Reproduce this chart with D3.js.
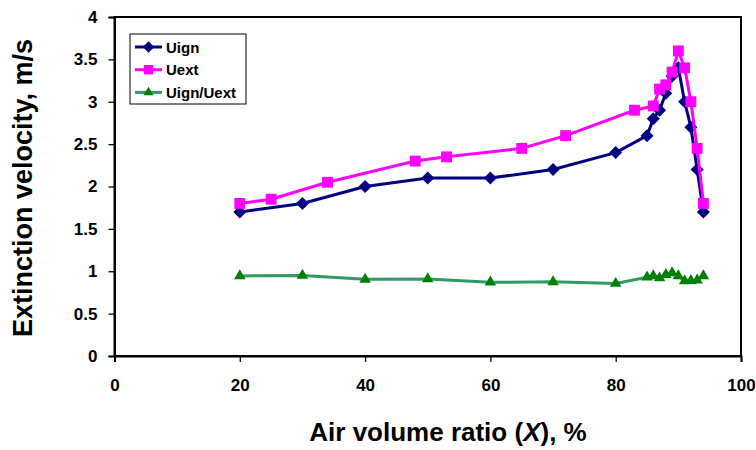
<!DOCTYPE html>
<html>
<head>
<meta charset="utf-8">
<script src="https://cdn.jsdelivr.net/npm/d3@7"></script>
<style>
  html, body { margin: 0; padding: 0; background: #fff; }
  svg { display: block; font-family: "Liberation Sans", Arial, sans-serif; }
</style>
</head>
<body>
<svg id="chart" width="756" height="450"></svg>
<script>
// Ignition / extinction velocities against air volume ratio
const uignX = [20, 30, 40, 50, 60, 70, 80, 85, 86, 87, 88, 89, 90, 91, 92, 93, 94];
const uignY = [1.7, 1.8, 2.0, 2.1, 2.1, 2.2, 2.4, 2.6, 2.8, 2.9, 3.1, 3.3, 3.4, 3.0, 2.7, 2.2, 1.7];

const uextX = [20, 25, 34, 48, 53, 65, 72, 83, 86, 87, 88, 89, 90, 91, 92, 93, 94];
const uextY = [1.8, 1.85, 2.05, 2.3, 2.35, 2.45, 2.6, 2.9, 2.95, 3.15, 3.2, 3.35, 3.6, 3.4, 3.0, 2.45, 1.8];

const ratioX = [20, 30, 40, 50, 60, 70, 80, 85, 86, 87, 88, 89, 90, 91, 92, 93, 94];
const ratioY = [0.945, 0.95, 0.905, 0.91, 0.87, 0.875, 0.855, 0.93, 0.945, 0.92, 0.96, 0.98, 0.945, 0.885, 0.89, 0.895, 0.945];

const xTicks = [0, 20, 40, 60, 80, 100];
const yTicks = [0, 0.5, 1, 1.5, 2, 2.5, 3, 3.5, 4];

const series = [
  { name: "Uign", xs: uignX, ys: uignY, line: "#000080", fill: "#000080", shape: "diamond" },
  { name: "Uext", xs: uextX, ys: uextY, line: "#FF00FF", fill: "#FF00FF", shape: "square" },
  { name: "Uign/Uext", xs: ratioX, ys: ratioY, line: "#339966", fill: "#008000", shape: "triangle" }
];

const svg = d3.select("#chart");
const m = { left: 114.5, right: 741, top: 17, bottom: 356 };

const x = d3.scaleLinear().domain([0, 100]).range([m.left, m.right]);
const y = d3.scaleLinear().domain([0, 4]).range([m.bottom, m.top]);

// plot frame
svg.append("rect")
  .attr("x", m.left).attr("y", m.top)
  .attr("width", m.right - m.left).attr("height", m.bottom - m.top)
  .attr("fill", "none").attr("stroke", "#000").attr("stroke-width", 2);

// axes
const xAxis = svg.append("g")
  .attr("transform", `translate(0,${m.bottom})`)
  .call(d3.axisBottom(x).tickValues(xTicks).tickSize(6).tickPadding(17).tickFormat(d3.format("d")));
const yAxis = svg.append("g")
  .attr("transform", `translate(${m.left},0)`)
  .call(d3.axisLeft(y).tickValues(yTicks).tickSize(6).tickPadding(11).tickFormat(d => String(d)));

[xAxis, yAxis].forEach(g => {
  g.select(".domain").attr("stroke", "#000").attr("stroke-width", 2);
  g.selectAll(".tick line").attr("stroke", "#000").attr("stroke-width", 1.3);
  g.selectAll(".tick text")
    .attr("fill", "#000")
    .style("font-size", "17px")
    .style("font-weight", "bold")
    .style("font-family", "'Liberation Sans', Arial, sans-serif");
});

// axis titles
svg.append("text")
  .attr("x", 448).attr("y", 441)
  .attr("text-anchor", "middle")
  .style("font-size", "26px").style("font-weight", "bold")
  .html('Air volume ratio (<tspan font-style="italic">X</tspan>), %');

svg.append("text")
  .attr("transform", "translate(32,188) rotate(-90)")
  .attr("text-anchor", "middle")
  .style("font-size", "27px").style("font-weight", "bold")
  .text("Extinction velocity, m/s");

const markerPath = (shape, scale) => {
  if (shape === "diamond") return d3.symbol().type(d3.symbolSquare).size(85 * scale)();
  if (shape === "square") return d3.symbol().type(d3.symbolSquare2).size(150 * scale)();
  return d3.symbol().type(d3.symbolTriangle2).size(95 * scale)();
};

const line = d3.line().x(d => x(d[0])).y(d => y(d[1]));

series.forEach(s => {
  const pts = s.xs.map((v, i) => [v, s.ys[i]]);
  const g = svg.append("g");
  g.append("path")
    .attr("d", line(pts))
    .attr("fill", "none")
    .attr("stroke", s.line)
    .attr("stroke-width", 3)
    .attr("stroke-linejoin", "round");
  g.selectAll("path.mk").data(pts).enter().append("path")
    .attr("class", "mk")
    .attr("d", markerPath(s.shape, 1))
    .attr("transform", d => `translate(${x(d[0])},${y(d[1])})` + (s.shape === "diamond" ? " rotate(45)" : ""))
    .attr("fill", s.fill)
    .attr("stroke", "none");
});

// legend
const lg = svg.append("g").attr("transform", "translate(130,34)");
lg.append("rect")
  .attr("width", 116).attr("height", 70)
  .attr("fill", "#fff").attr("stroke", "#000").attr("stroke-width", 1);
series.forEach((s, i) => {
  const cy = 13 + i * 22.7;
  lg.append("line")
    .attr("x1", 5).attr("x2", 32).attr("y1", cy).attr("y2", cy)
    .attr("stroke", s.line).attr("stroke-width", 3);
  lg.append("path")
    .attr("d", markerPath(s.shape, 0.75))
    .attr("transform", `translate(18.5,${cy})` + (s.shape === "diamond" ? " rotate(45)" : ""))
    .attr("fill", s.fill);
  lg.append("text")
    .attr("x", 36).attr("y", cy + 5.5)
    .style("font-size", "15px").style("font-weight", "bold")
    .text(s.name);
});
</script>
</body>
</html>
